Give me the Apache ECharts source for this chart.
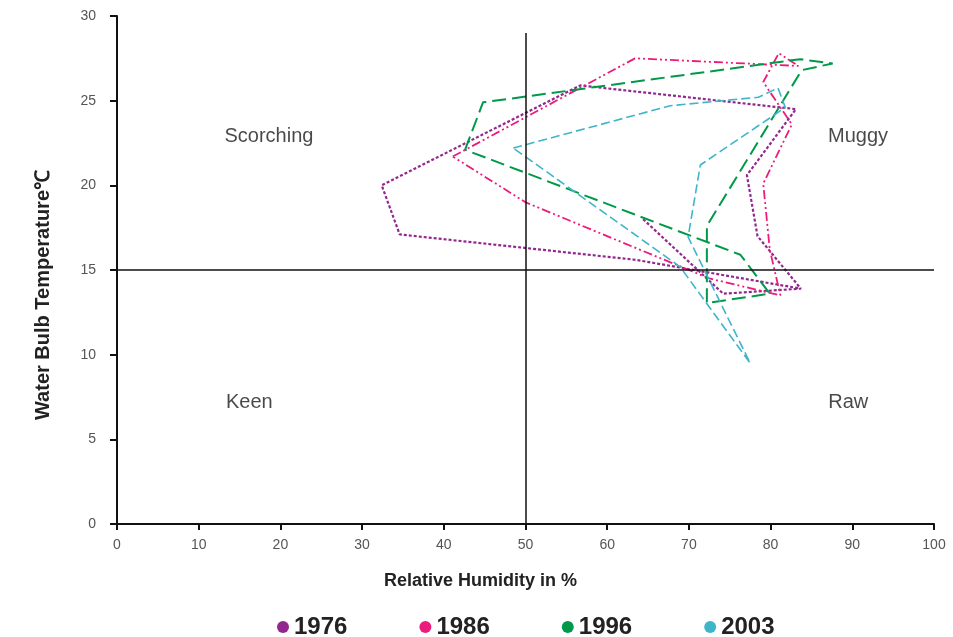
<!DOCTYPE html>
<html>
<head>
<meta charset="utf-8">
<script src="https://cdn.jsdelivr.net/npm/echarts@6/dist/echarts.min.js"></script>
<style>html,body{margin:0;padding:0;background:#fff}#c{width:953px;height:637px}</style>
</head>
<body>
<div id="c"></div>
<script>
// [relative humidity %, water bulb temperature °C]
const years = ['1976', '1986', '1996', '2003'];
const colors = ['#93278F', '#EC1C7C', '#00994A', '#3FB5C9'];
const data1976 = [[64.4,18.0],[74.2,13.6],[83.7,13.9],[78.4,17.0],[77.1,20.6],[83.1,24.5],[56.7,25.9],[32.4,20.0],[34.6,17.1],[63.5,15.6],[83.7,13.9]];
const data1986 = [[41.1,21.7],[63.4,27.5],[83.4,27.05],[81.0,27.8],[79.1,26.1],[81.2,24.6],[82.6,23.6],[79.1,20.1],[79.9,16.2],[81.2,13.5],[72.5,14.5],[50.0,19.0],[41.1,21.7]];
const data1996 = [[42.6,22.1],[44.8,24.9],[83.6,27.45],[87.6,27.2],[83.8,26.8],[72.2,17.6],[72.2,13.05],[79.9,13.6],[76.3,15.9],[42.6,22.1]];
const data2003 = [[48.5,22.2],[67.7,24.7],[78.5,25.2],[80.9,25.75],[81.8,24.6],[71.4,21.2],[69.9,16.95],[77.5,9.5],[68.9,15.2],[48.5,22.2]];
const quadrants = [[18.6,22.9,'Scorching'],[90.7,22.9,'Muggy'],[16.2,7.2,'Keen'],[89.5,7.2,'Raw']];
const xTicks = {min:0, max:100, interval:10};
const yTicks = {min:0, max:30, interval:5};
const dividerX = 50, dividerY = 15;

const seriesData = [data1976, data1986, data1996, data2003];
const dashes = [[3,2],[9,3,2,3,2,3],[14,6],[9,4]];
const widths = [2.2, 1.8, 2, 1.6];
const FONT = "'Liberation Sans', Arial, sans-serif";

const chart = echarts.init(document.getElementById('c'), null, {renderer:'canvas'});
const series = years.map((y,i)=>({
  name: y, type:'line', data: seriesData[i], showSymbol:false, symbol:'circle',
  smooth:false, animation:false,
  itemStyle:{color:colors[i]},
  lineStyle:{color:colors[i], width:widths[i], type:dashes[i]}
}));
series.push({
  name:'quadrants', type:'scatter', data: quadrants, symbolSize:0, silent:true, animation:false,
  label:{show:true, position:'inside', formatter:p=>p.value[2], fontSize:20, color:'#1a1a1a', fontFamily:FONT},
  markLine:{
    silent:true, symbol:'none', animation:false,
    label:{show:false},
    lineStyle:{color:'#111', width:1.5, type:'solid'},
    data:[
      [{coord:[dividerX,0]},{coord:[dividerX,29]}],
      [{coord:[0,dividerY]},{coord:[100,dividerY]}]
    ]
  }
});

chart.setOption({
  backgroundColor:'#fff',
  animation:false,
  grid:{left:117, right:19, top:16, bottom:113, containLabel:false},
  legend:{
    data: years.map((y,i)=>({name:y, icon:'circle'})),
    left:272, top:610, itemWidth:12, itemHeight:14, itemGap:72,
    textStyle:{fontSize:24, fontWeight:'bold', color:'#222', fontFamily:FONT}
  },
  xAxis:{
    type:'value', min:xTicks.min, max:xTicks.max, interval:xTicks.interval,
    name:'Relative Humidity in %', nameLocation:'middle', nameGap:48,
    nameTextStyle:{fontSize:18, fontWeight:'bold', color:'#222', fontFamily:FONT, padding:[0,90,0,0]},
    axisLine:{lineStyle:{color:'#111', width:2}},
    axisTick:{show:true, length:6, lineStyle:{color:'#111', width:2}},
    axisLabel:{color:'#555', fontSize:14, margin:14, fontFamily:FONT},
    splitLine:{show:false}
  },
  yAxis:{
    type:'value', min:yTicks.min, max:yTicks.max, interval:yTicks.interval,
    name:'Water Bulb Temperature℃', nameLocation:'middle', nameGap:64,
    nameTextStyle:{fontSize:20, fontWeight:'bold', color:'#222', fontFamily:FONT, padding:[0,50,0,0]},
    axisLine:{lineStyle:{color:'#111', width:2}},
    axisTick:{show:true, length:7, lineStyle:{color:'#111', width:2}},
    axisLabel:{color:'#555', fontSize:14, margin:21, fontFamily:FONT},
    splitLine:{show:false}
  },
  series: series
});
</script>
</body>
</html>
